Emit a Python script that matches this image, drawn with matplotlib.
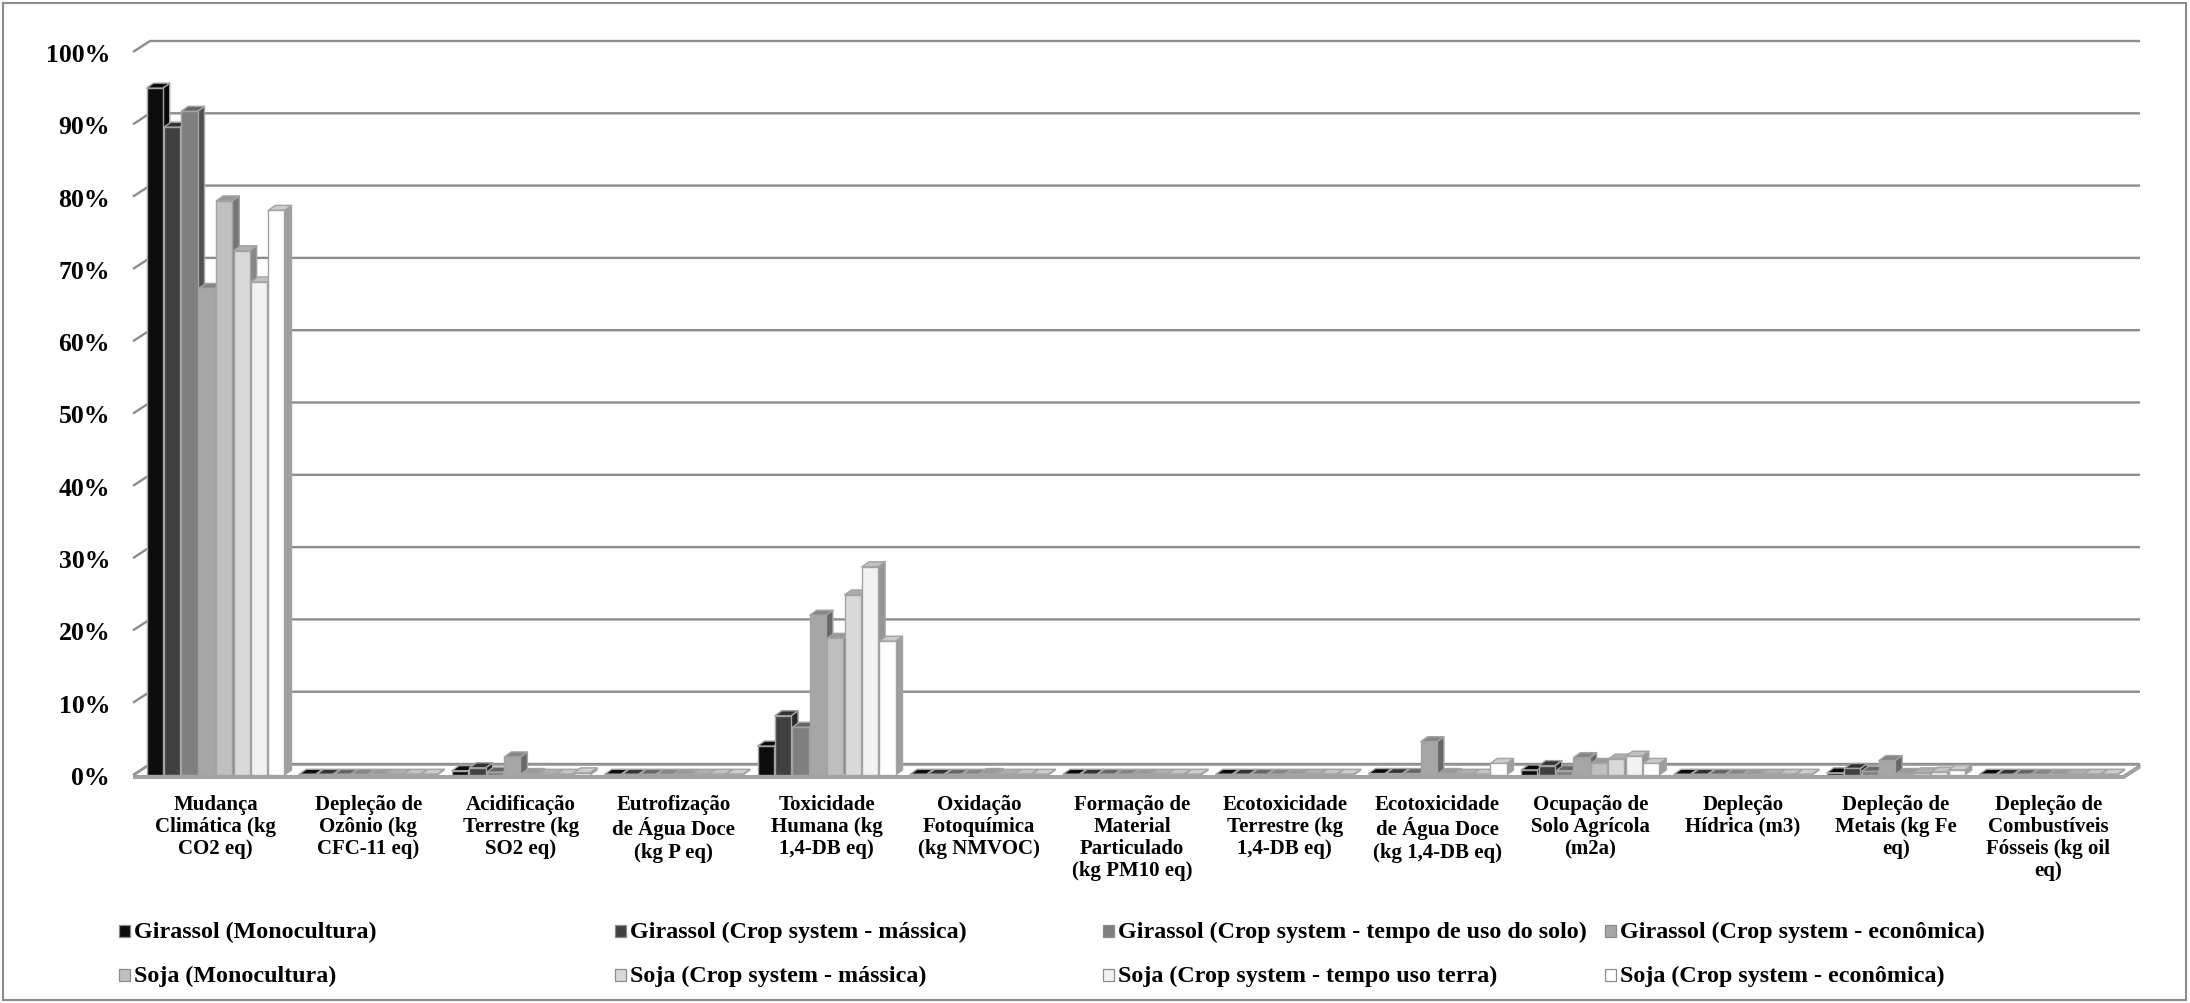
import numpy as np
import matplotlib.pyplot as plt
from matplotlib.patches import Rectangle, Polygon
from matplotlib.collections import PolyCollection

plt.rcParams['font.family'] = ['Liberation Serif', 'DejaVu Serif']
plt.rcParams['font.weight'] = 'bold'

categorias = [
    "Mudança\nClimática (kg\nCO2 eq)",
    "Depleção de\nOzônio (kg\nCFC-11 eq)",
    "Acidificação\nTerrestre (kg\nSO2 eq)",
    "Eutrofização\nde Água Doce\n(kg P eq)",
    "Toxicidade\nHumana (kg\n1,4-DB eq)",
    "Oxidação\nFotoquímica\n(kg NMVOC)",
    "Formação de\nMaterial\nParticulado\n(kg PM10 eq)",
    "Ecotoxicidade\nTerrestre (kg\n1,4-DB eq)",
    "Ecotoxicidade\nde Água Doce\n(kg 1,4-DB eq)",
    "Ocupação de\nSolo Agrícola\n(m2a)",
    "Depleção\nHídrica (m3)",
    "Depleção de\nMetais (kg Fe\neq)",
    "Depleção de\nCombustíveis\nFósseis (kg oil\neq)",
]

series = [
    "Girassol (Monocultura)",
    "Girassol (Crop system - mássica)",
    "Girassol (Crop system - tempo de uso do solo)",
    "Girassol (Crop system - econômica)",
    "Soja (Monocultura)",
    "Soja (Crop system - mássica)",
    "Soja (Crop system - tempo uso terra)",
    "Soja (Crop system - econômica)",
]

# contribuição de cada categoria de impacto (%)
girassol_mono = [95.0, 0.1, 0.6, 0.1, 4.0, 0.1, 0.1, 0.1, 0.2, 0.7, 0.1, 0.3, 0.1]
girassol_massica = [89.6, 0.1, 1.0, 0.1, 8.2, 0.1, 0.1, 0.1, 0.2, 1.3, 0.1, 0.9, 0.1]
girassol_tempo = [91.8, 0.1, 0.4, 0.1, 6.6, 0.1, 0.1, 0.1, 0.2, 0.6, 0.1, 0.5, 0.1]
girassol_econ = [67.3, 0.1, 2.5, 0.1, 22.1, 0.1, 0.1, 0.1, 4.6, 2.4, 0.1, 2.0, 0.1]
soja_mono = [79.4, 0.1, 0.2, 0.1, 18.9, 0.2, 0.1, 0.1, 0.2, 1.6, 0.1, 0.2, 0.1]
soja_massica = [72.5, 0.1, 0.1, 0.1, 24.9, 0.1, 0.1, 0.1, 0.1, 2.2, 0.1, 0.3, 0.1]
soja_tempo = [68.2, 0.1, 0.1, 0.1, 28.8, 0.1, 0.1, 0.1, 0.1, 2.6, 0.1, 0.4, 0.1]
soja_econ = [78.1, 0.1, 0.3, 0.1, 18.5, 0.1, 0.1, 0.1, 1.6, 1.6, 0.1, 0.7, 0.1]

valores = [girassol_mono, girassol_massica, girassol_tempo, girassol_econ,
           soja_mono, soja_massica, soja_tempo, soja_econ]
cores = ['#0d0d0d', '#404040', '#7f7f7f', '#a6a6a6',
         '#bfbfbf', '#d9d9d9', '#f2f2f2', '#ffffff']

W, H = 2190, 1004
# escala: centro do 1o grupo, largura de grupo, linha de base e px por %
X0, XSTEP = 215.5, 152.75
Y0, YSTEP = 776, 7.23


def px_x(p):
    return (p - X0) / XSTEP


def px_y(p):
    return (Y0 - p) / YSTEP


def escurecer(cor, f):
    r, g, b = plt.matplotlib.colors.to_rgb(cor)
    return (r * f, g * f, b * f)


fig = plt.figure(figsize=(W / 100, H / 100), dpi=100)
ax = fig.add_axes([133 / W, 1 - 780 / H, (2160 - 133) / W, 760 / H])
ax.set_xlim(px_x(133), px_x(2160))
ax.set_ylim(px_y(780), px_y(20))
for s in ax.spines.values():
    s.set_visible(False)

# parede do fundo (grade) e linhas inclinadas da lateral
xf, xb, xr = px_x(133), px_x(150), px_x(2140)
dyw = 11 / YSTEP
for t in range(0, 101, 10):
    ax.plot([xf, xb, xr], [t, t + dyw, t + dyw], color='#8c8c8c', lw=1.7,
            zorder=1, solid_capstyle='butt', clip_on=False)

# piso
xfr = px_x(2123)
dxw = xb - xf
yfl, ybot = px_y(777), px_y(780)
ax.add_patch(Polygon([(xf, yfl), (xfr, yfl), (xfr + dxw, yfl + dyw), (xb, yfl + dyw)],
                     closed=True, facecolor='white', edgecolor='#9a9a9a', lw=1.2, zorder=1.5))
ax.add_patch(Polygon([(xf, ybot), (xfr, ybot), (xfr + dxw, ybot + dyw), (xfr + dxw, yfl + dyw),
                      (xfr, yfl), (xf, yfl)],
                     closed=True, facecolor='#a6a6a6', edgecolor='#9a9a9a', lw=0.8, zorder=1.6))

# barras em pseudo-3D
passo, largura = 17.4 / XSTEP, 16.2 / XSTEP
dxb, dyb = 7 / XSTEP, 5 / YSTEP
borda = '#a3a3a3'
x = np.arange(len(categorias))
for k, (vals, cor) in enumerate(zip(valores, cores)):
    xc = x + (k - 3.5) * passo
    vals = np.array(vals)
    esq, dir_ = xc - largura / 2, xc + largura / 2
    topos = [[(a, v), (b, v), (b + dxb, v + dyb), (a + dxb, v + dyb)]
             for a, b, v in zip(esq, dir_, vals)]
    lados = [[(b, 0), (b, v), (b + dxb, v + dyb), (b + dxb, dyb)]
             for b, v in zip(dir_, vals)]
    ax.add_collection(PolyCollection(lados, facecolors=[escurecer(cor, 0.62)],
                                     edgecolors=borda, linewidths=1.0, zorder=2 + k))
    ax.add_collection(PolyCollection(topos, facecolors=[escurecer(cor, 0.8)],
                                     edgecolors=borda, linewidths=1.0, zorder=2 + k))
    ax.bar(xc, vals, width=largura, color=cor, edgecolor=borda, linewidth=1.0,
           zorder=2 + k)

ax.set_yticks(range(0, 101, 10))
ax.set_yticklabels([f"{t}%" for t in range(0, 101, 10)], fontsize=18.5, fontweight='bold')
ax.set_xticks(x)
ax.set_xticklabels(categorias, fontsize=15, fontweight='bold')
for t in ax.get_xticklabels():
    t.set_linespacing(1.15)
ax.tick_params(axis='y', length=0, pad=16.5)
ax.tick_params(axis='x', length=0, pad=10.5)

# legenda em 4 colunas
col_px = [124, 620, 1108, 1610]
lin_px = [932, 976]
for i, (nome, cor) in enumerate(zip(series, cores)):
    mx, my = col_px[i % 4], lin_px[i // 4]
    fig.add_artist(Rectangle(((mx - 5) / W, 1 - (my + 6) / H), 11 / W, 12 / H,
                             transform=fig.transFigure, facecolor=cor,
                             edgecolor='#8c8c8c', lw=0.9))
    fig.text((mx + 10) / W, 1 - my / H, nome, fontsize=17.3, fontweight='bold',
             ha='left', va='center')

fig.add_artist(Rectangle((3 / W, 3 / H), (W - 7) / W, (H - 7) / H, transform=fig.transFigure,
                         fill=False, edgecolor='#8c8c8c', lw=1.5))

fig.savefig('out.png', dpi=100)
